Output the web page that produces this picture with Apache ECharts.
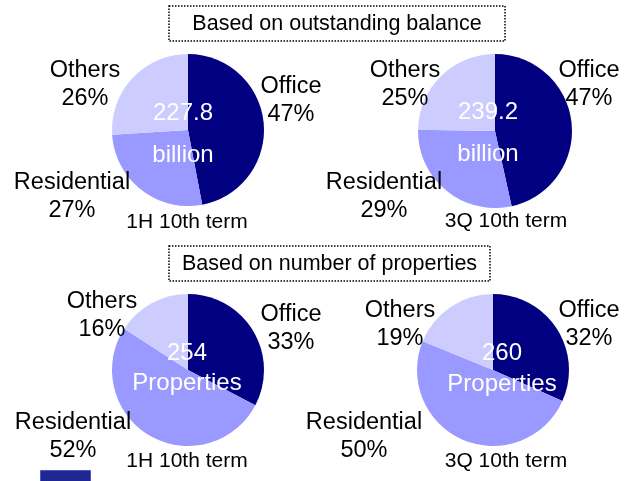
<!DOCTYPE html>
<html>
<head>
<meta charset="utf-8">
<script src="https://cdn.jsdelivr.net/npm/echarts@6/dist/echarts.min.js"></script>
<style>
  html, body { margin: 0; padding: 0; background: #fff; }
  #chart { width: 624px; height: 481px; }
</style>
</head>
<body>
<div id="chart"></div>
<script>
  // data
  var categories = ['Office', 'Residential', 'Others'];
  var balance1H = [47, 27, 26];
  var balance3Q = [47, 29, 25];
  var props1H = [33, 52, 16];
  var props3Q = [32, 50, 19];
  var totals = ['227.8', '239.2', '254', '260'];
  var units = ['billion', 'billion', 'Properties', 'Properties'];
  var terms = ['1H 10th term', '3Q 10th term', '1H 10th term', '3Q 10th term'];
  var sectionTitles = ['Based on outstanding balance', 'Based on number of properties'];

  var colors = ['#000080', '#9999ff', '#ccccff'];
  var font = '"Liberation Sans", Arial, sans-serif';

  // layout of each pie: center, radius, label spots (office, residential, others)
  var pies = [
    { values: balance1H, c: [188, 130], r: 76, lab: [[291, 101], [72, 197], [85, 85]], mid: [183, 113, 155], term: [187, 222] },
    { values: balance3Q, c: [495, 131], r: 77, lab: [[589, 85], [384, 197], [405, 85]], mid: [488, 112, 154], term: [506, 221] },
    { values: props1H, c: [188, 370], r: 76, lab: [[291, 329], [73, 437], [102, 316]], mid: [187, 353, 383], term: [187, 461] },
    { values: props3Q, c: [493, 370], r: 76, lab: [[589, 325], [364, 437], [400, 325]], mid: [502, 353, 384], term: [506, 461] }
  ];

  var chart = echarts.init(document.getElementById('chart'));

  var series = pies.map(function (p, k) {
    return {
      type: 'pie',
      center: p.c,
      radius: [0, p.r],
      startAngle: 90,
      clockwise: true,
      silent: true,
      animation: false,
      itemStyle: { borderWidth: 0 },
      label: {
        show: true,
        position: 'outside',
        formatter: '{b}\n{c}%',
        fontFamily: font,
        fontSize: 23.5,
        lineHeight: 28,
        color: '#000',
        align: 'center',
        overflow: 'none',
        width: 200
      },
      labelLine: { show: false },
      labelLayout: function (params) {
        var pos = p.lab[params.dataIndex];
        return { x: pos[0], y: pos[1], align: 'center', verticalAlign: 'middle', hideOverlap: false, moveOverlap: false };
      },
      data: categories.map(function (name, i) {
        return { name: name, value: p.values[i], itemStyle: { color: colors[i] } };
      })
    };
  });

  var graphics = [];
  // section title boxes
  var boxes = [[169, 6, 336, 35], [169, 246, 321, 35]];
  boxes.forEach(function (b, i) {
    graphics.push({
      type: 'rect', shape: { x: b[0], y: b[1], width: b[2], height: b[3] },
      style: { fill: '#fff', stroke: '#000', lineWidth: 1.5, lineDash: [1.5, 1.5] }
    });
    graphics.push({
      type: 'text', x: b[0] + b[2] / 2, y: b[1] + b[3] / 2 + 0.5,
      style: { text: sectionTitles[i], fontFamily: font, fontSize: 21.5, fill: '#000', align: 'center', verticalAlign: 'middle' }
    });
  });
  // centre texts and term captions
  pies.forEach(function (p, k) {
    graphics.push({
      type: 'text', x: p.mid[0], y: p.mid[1], z: 10,
      style: { text: totals[k], fontFamily: font, fontSize: 24, fill: '#fff', align: 'center', verticalAlign: 'middle' }
    });
    graphics.push({
      type: 'text', x: p.mid[0], y: p.mid[2], z: 10,
      style: { text: units[k], fontFamily: font, fontSize: 24, fill: '#fff', align: 'center', verticalAlign: 'middle' }
    });
    graphics.push({
      type: 'text', x: p.term[0], y: p.term[1],
      style: { text: terms[k], fontFamily: font, fontSize: 21, fill: '#000', align: 'center', verticalAlign: 'middle' }
    });
  });
  // small navy block bottom left
  graphics.push({
    type: 'rect', shape: { x: 40.5, y: 470.5, width: 50, height: 14 },
    style: { fill: '#1f2790', stroke: '#4b52d6', lineWidth: 1 }
  });

  chart.setOption({
    backgroundColor: '#fff',
    animation: false,
    series: series,
    graphic: graphics
  });
</script>
</body>
</html>
